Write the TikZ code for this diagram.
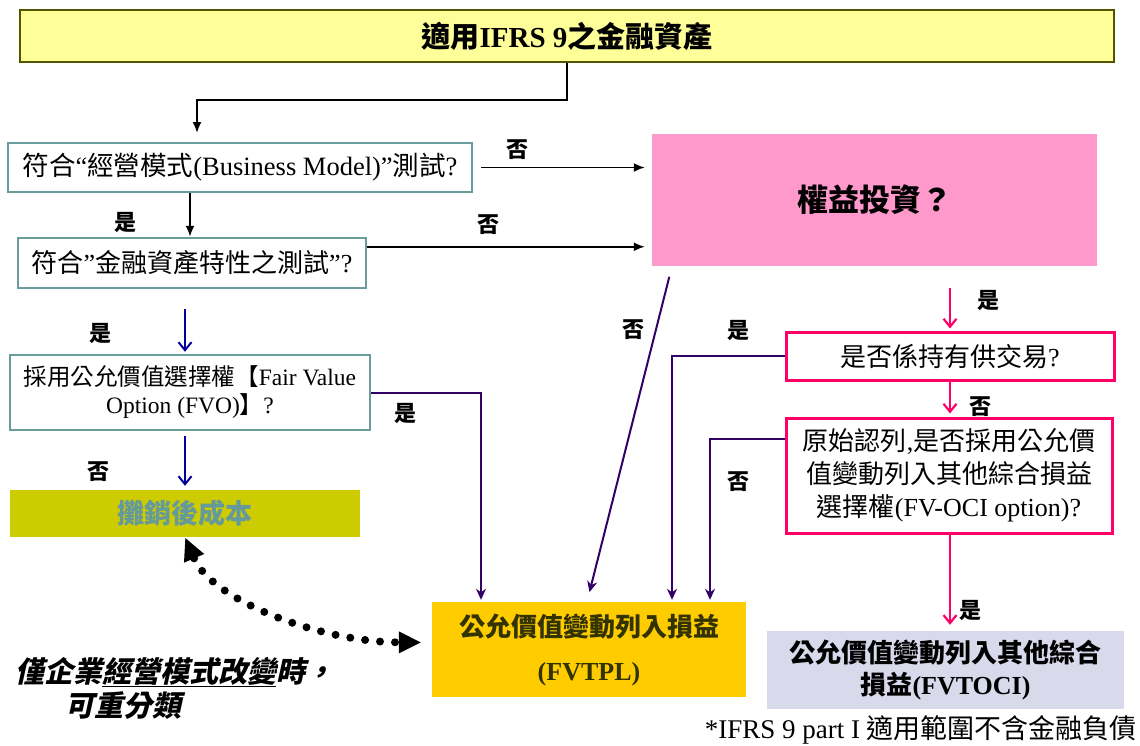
\documentclass[tikz,border=0pt]{standalone}
\usepackage{fontspec}
\setmainfont{Liberation Serif}
\newfontfamily\zhfont{Noto Sans CJK TC}
\newfontfamily\zhsl{Noto Sans CJK TC}[FakeSlant=0.22]
\newcommand\zh[1]{{\zhfont #1}}
\newcommand\fsz[2]{\fontsize{#1pt}{#2pt}\selectfont}
\usetikzlibrary{arrows.meta,calc}
\definecolor{titlefill}{HTML}{FFFF99}
\definecolor{titleline}{HTML}{555500}
\definecolor{tealline}{HTML}{6A9C9C}
\definecolor{pinkfill}{HTML}{FF99CC}
\definecolor{pinkline}{HTML}{FF0066}
\definecolor{bluearrow}{HTML}{000099}
\definecolor{purplearrow}{HTML}{330066}
\definecolor{acfill}{HTML}{CCCC00}
\definecolor{actext}{HTML}{669999}
\definecolor{tplfill}{HTML}{FFCC00}
\definecolor{tpltext}{HTML}{333300}
\definecolor{ocifill}{HTML}{D9D9EC}
\begin{document}
\begin{tikzpicture}[x=1pt,y=-1pt,
  box/.style={rectangle, inner sep=0pt, align=center, anchor=center},
  tealbox/.style={box, draw=tealline, line width=2.5pt},
  pinkbox/.style={box, draw=pinkline, line width=3pt},
  lbl/.style={inner sep=0pt, font=\fsz{22}{24}\zhfont\bfseries},
  blk/.style={draw=black, line width=1.8pt, -{Latex[length=11pt,width=9pt]}},
  bluearr/.style={draw=bluearrow, line width=2pt, -{Straight Barb[length=8pt,width=13pt,line width=2pt]}},
  pinkarr/.style={draw=pinkline, line width=2.2pt, -{Straight Barb[length=8pt,width=13pt,line width=2.2pt]}},
  purarr/.style={draw=purplearrow, line width=2pt, -{Stealth[length=11pt,width=10pt]}},
  dotarr/.style={draw=black, line width=8pt, line cap=round, dash pattern=on 0pt off 15pt,
     {Triangle[length=22pt,width=22pt,line width=0pt]}-{Triangle[length=22pt,width=22pt,line width=0pt]}}
]
\useasboundingbox (0,0) rectangle (1140,745);

% boxes
\node[box, fill=titlefill, draw=titleline, line width=2pt, minimum width=1094pt, minimum height=52pt,
  font=\fsz{29}{32}\bfseries] (title) at (567,36) {\zh{適用}IFRS 9\zh{之金融資產}};
\node[tealbox, minimum width=464pt, minimum height=49pt, font=\fsz{26.5}{30}] (BM) at (240,167.5)
  {\zh{符合}“\zh{經營模式}(Business Model)”\zh{測試}?};
\node[tealbox, minimum width=348pt, minimum height=50pt, font=\fsz{26}{30}] (FA) at (192,263)
  {\zh{符合}”\zh{金融資產特性之測試}”?};
\node[box, fill=pinkfill, minimum width=445pt, minimum height=132pt, font=\fsz{31}{34}\bfseries] (Eq) at (874.5,200)
  {\zh{權益投資？}};
\node[tealbox, minimum width=360pt, minimum height=75pt, font=\fsz{23.5}{28}] (FVO) at (190,392.5)
  {\zh{採用公允價值選擇權【}Fair Value\\Option (FVO)\zh{】}?};
\node[box, fill=acfill, minimum width=350pt, minimum height=47pt, text=actext, font=\fsz{27}{30}\bfseries] (AC) at (185,513.5)
  {\zh{攤銷後成本}};
\node[box, fill=tplfill, minimum width=314pt, minimum height=95pt, text=tpltext, font=\fsz{26}{30}\bfseries] (FVTPL) at (589,649.5)
  {\zh{公允價值變動列入損益}\\[14pt](FVTPL)};
\node[pinkbox, minimum width=328pt, minimum height=48pt, font=\fsz{26}{30}] (TR) at (950,356)
  {\zh{是否係持有供交易}?};
\node[pinkbox, minimum width=326pt, minimum height=115pt, font=\fsz{26}{33}] (OCI) at (949,475.5)
  {\zh{原始認列},\zh{是否採用公允價}\\\zh{值變動列入其他綜合損益}\\\zh{選擇權}(FV-OCI option)?};
\node[box, fill=ocifill, minimum width=357pt, minimum height=78pt, font=\fsz{26}{32}\bfseries] (FVTOCI) at (945.5,670)
  {\zh{公允價值變動列入其他綜合}\\\zh{損益}(FVTOCI)};
\node[inner sep=0pt, anchor=east, font=\fsz{27}{28}] (foot) at (1137,730)
  {*IFRS 9 part I \zh{適用範圍不含金融負債}};
\node[inner sep=0pt, anchor=west, font=\fsz{29}{30}\zhsl\bfseries] (note1) at (15,672)
  {僅企業\underline{經營模式改變}時，};
\node[inner sep=0pt, anchor=west, font=\fsz{29}{30}\zhsl\bfseries] (note2) at (65,706)
  {可重分類};

% labels
\node[lbl] (l1) at (517,150) {否};
\node[lbl] (l2) at (125,222) {是};
\node[lbl] (l3) at (488,225) {否};
\node[lbl] (l4) at (100,333) {是};
\node[lbl] (l5) at (98,472) {否};
\node[lbl] (l6) at (405,413) {是};
\node[lbl] (l7) at (633,330) {否};
\node[lbl] (l8) at (738,330) {是};
\node[lbl] (l9) at (988,300) {是};
\node[lbl] (l10) at (980,407) {否};
\node[lbl] (l11) at (738,482) {否};
\node[lbl] (l12) at (970,610) {是};

% connectors
\draw[blk, shorten >=10pt] (title.south) -- (title.south |- 0,100) -| (197,143);
\draw[blk, shorten <=8pt, shorten >=7pt] (BM.east) -- (BM.east -| Eq.west);
\draw[blk, shorten >=7pt] ([yshift=-10pt]FA.north east) -- ([yshift=-10pt]FA.north east -| Eq.west);
\draw[blk] (BM.south -| 190,0) -- (FA.north -| 190,0);
\draw[bluearr, shorten <=20pt, shorten >=2pt] (FA.south -| 185,0) -- (FVO.north -| 185,0);
\draw[bluearr, shorten <=5pt, shorten >=4pt] (FVO.south -| 185,0) -- (AC.north -| 185,0);
\draw[purarr, shorten >=2pt] (FVO.east) -| (FVTPL.north -| 481,0);
\draw[purarr, shorten <=11pt, shorten >=10pt] (Eq.south -| 672,0) -- (FVTPL.north -| 587,0);
\draw[pinkarr, shorten <=22pt, shorten >=2pt] (Eq.south -| TR.north) -- (TR.north);
\draw[purarr, shorten >=2pt] (TR.west) -| (FVTPL.north -| 672,0);
\draw[pinkarr, shorten >=3pt] (TR.south) -- (TR.south |- OCI.north);
\draw[purarr, shorten >=2pt] ([yshift=-22pt]OCI.north west) -| (FVTPL.north -| 710,0);
\draw[pinkarr, shorten >=6pt] (OCI.south -| TR.south) -- (TR.south |- FVTOCI.north);
\draw[dotarr, shorten <=1pt, shorten >=11pt] (AC.south) .. controls (212,600) and (320,642) .. ([yshift=7pt]FVTPL.west);
\end{tikzpicture}
\end{document}
